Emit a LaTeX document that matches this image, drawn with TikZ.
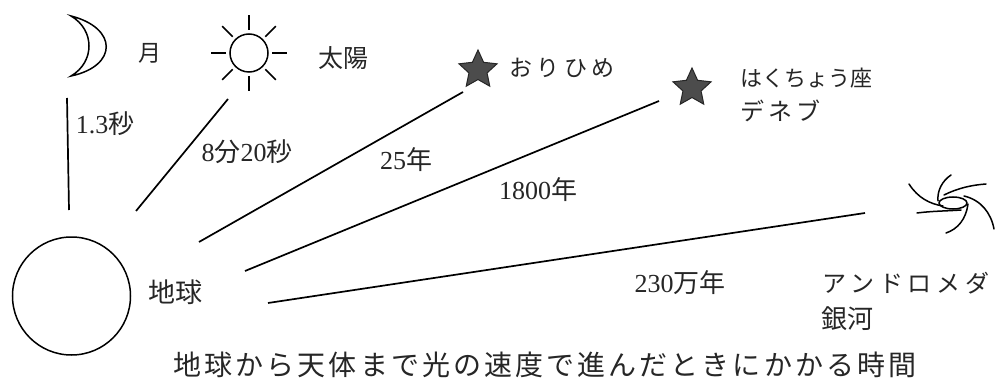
\documentclass[tikz,border=0pt]{standalone}
\usepackage{fontspec}
\setmainfont{Liberation Serif}
\newfontfamily\jp{Noto Sans CJK JP}
\usetikzlibrary{shapes.geometric,calc}
% letter-spaced Japanese text: \jpls{size}{spacing}{text}
\newcommand{\jpls}[3]{\fontsize{#1}{#1}\jp\addfontfeature{LetterSpace=#2}#3}
\begin{document}
\begin{tikzpicture}[x=1pt,y=-1pt,line width=1.7pt,
  lbl/.style={inner sep=0pt,anchor=center,text=black!85},
  num/.style={lbl,font=\fontsize{26}{26}\selectfont},
  ray/.style={line width=1.6pt},
  starsym/.style={star,star points=5,star point ratio=2.1,minimum size=40pt,
    inner sep=0pt,draw=black!85,fill=black!70,line width=1pt},
  arm/.style={line width=1.5pt,line cap=round}]
\useasboundingbox (0,0) rectangle (995,390);
\fill[white] (0,0) rectangle (995,390);

% moon
\draw[line width=1.5pt] (71,16) .. controls (118,28) and (118,66) .. (71,76)
  .. controls (95,62) and (95,30) .. cycle;
\node[lbl,font=\fontsize{23}{23}\jp] (moon) at (150,53) {月};

% sun
\coordinate (sunc) at (249,53);
\draw[line width=1.5pt] (sunc) circle (19);
\foreach \a in {0,45,...,315}
  \draw[ray] ($(sunc)+(\a:23)$) -- ($(sunc)+(\a:38)$);
\node[lbl,font=\fontsize{25}{25}\jp] (sun) at (343,58) {太陽};

% earth
\draw[line width=1.5pt] (71.5,296) circle (59);
\node[lbl,font=\fontsize{27}{27}\jp] (earth) at (175,292) {地球};

% stars
\node[starsym] (vega) at (478,70) {};
\node[lbl] (vegal) at (562,68) {\jpls{23}{20}{おりひめ}};
\node[starsym] (deneb) at (692,88) {};
\node[lbl,anchor=west] (denebl) at (740,78) {\fontsize{22}{22}\jp はくちょう座};
\node[lbl,anchor=west] (denebl2) at (740,111) {\jpls{24}{15}{デネブ}};

% galaxy
\begin{scope}[arm]
  \draw (909,184) .. controls (918,198) and (930,204) .. (943,206);
  \draw (951,175) .. controls (942,181) and (937,191) .. (938,201);
  \draw (944,195) .. controls (958,188) and (972,185) .. (986,184);
  \draw (964,196) .. controls (981,200) and (991,213) .. (994,229);
  \draw (917,213) .. controls (932,211) and (948,211) .. (961,210);
  \draw (968,204) .. controls (966,219) and (958,229) .. (946,233);
  \draw (953,203) ellipse (14 and 6);
\end{scope}
\node[lbl] (andl) at (906,283) {\jpls{24}{20}{アンドロメダ}};
\node[lbl] (andl2) at (847,319) {\fontsize{26}{26}\jp 銀河};

% light paths
\coordinate (m1) at (69,210);  \coordinate (m2) at (67,98);
\coordinate (s1) at (136,211); \coordinate (s2) at (228,99);
\coordinate (v1) at (199,242); \coordinate (v2) at (463,92);
\coordinate (d1) at (245,271); \coordinate (d2) at (659,101);
\coordinate (a1) at (268,303); \coordinate (a2) at (865,213);
\draw (m1) -- (m2);
\draw (s1) -- (s2);
\draw (v1) -- (v2);
\draw (d1) -- (d2);
\draw (a1) -- (a2);

% travel times
\node[num] (t1) at (105,124) {1.3{\jp 秒}};
\node[num] (t2) at (247,152) {8{\jp 分}20{\jp 秒}};
\node[num] (t3) at (406,160) {25{\jp 年}};
\node[num] (t4) at (538,190) {1800{\jp 年}};
\node[num] (t5) at (680,283) {230{\jp 万年}};

% caption
\node[lbl] (cap) at (545,365) {\jpls{28}{11}{地球から天体まで光の速度で進んだときにかかる時間}};
\end{tikzpicture}
\end{document}
